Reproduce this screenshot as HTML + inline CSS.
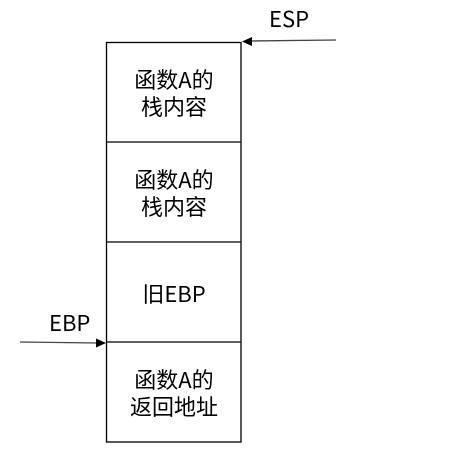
<!DOCTYPE html>
<html><head><meta charset="utf-8"><style>
body{margin:0;background:#fff;width:470px;height:467px;overflow:hidden}
svg text{font-family:"Noto Sans CJK SC","Liberation Sans",sans-serif;font-size:22px;fill:#000}
</style></head><body>
<svg width="470" height="467" xmlns="http://www.w3.org/2000/svg">
<g fill="none" stroke="#000" stroke-width="1.3">
<rect x="106.5" y="42.5" width="134.5" height="399.5"/>
<line x1="106.5" y1="142" x2="241" y2="142"/>
<line x1="106.5" y1="242" x2="241" y2="242"/>
<line x1="106.5" y1="342" x2="241" y2="342"/>
<line x1="336" y1="40" x2="250" y2="41" stroke="#444"/>
<line x1="20" y1="342" x2="98" y2="343" stroke="#444"/>
</g>
<polygon points="242,41.5 252,37 252,46" fill="#000"/>
<polygon points="106,343 96,338.5 96,347.5" fill="#000"/>
<g text-anchor="middle">
<text x="174" y="88">函数A的</text>
<text x="174" y="115">栈内容</text>
<text x="174" y="188">函数A的</text>
<text x="174" y="215">栈内容</text>
<text x="174" y="302">旧EBP</text>
<text x="174" y="388">函数A的</text>
<text x="174" y="415">返回地址</text>
</g>
<text x="269" y="27">ESP</text>
<text x="49" y="331">EBP</text>
</svg>
</body></html>
